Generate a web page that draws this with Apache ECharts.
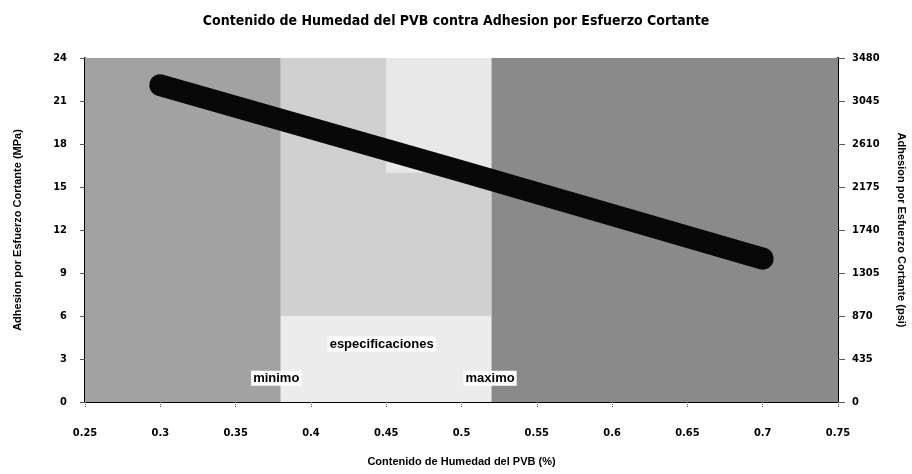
<!DOCTYPE html>
<html>
<head>
<meta charset="utf-8">
<script src="https://cdn.jsdelivr.net/npm/echarts@6/dist/echarts.min.js"></script>
<style>
  html, body { margin: 0; padding: 0; background: #fff; }
  #Chart { width: 912px; height: 474px; }
</style>
</head>
<body>
<div id="Chart"></div>
<script>
// datos
var humedad = [0.3, 0.5, 0.7];
var adhesion = [22.1, 16.1, 10.0];
// zonas del fondo: [x inicio, x fin, y inicio, y fin, color]
var zonas = [
    [0.25, 0.38, 0, 24, '#a2a2a2'],
    [0.38, 0.52, 0, 24, '#d0d0d0'],
    [0.38, 0.52, 0, 6, '#ececec'],
    [0.45, 0.52, 16, 24, '#e8e8e8'],
    [0.52, 0.75, 0, 24, '#8a8a8a']
];
var etiquetas = ['minimo', 'especificaciones', 'maximo'];
var etiquetaX = [0.377, 0.447, 0.519];
var etiquetaY = [1.65, 4.05, 1.65];

var narrow = "'DejaVu Sans Condensed', 'Liberation Sans Narrow', sans-serif";
var myChart = echarts.init(document.getElementById('Chart'));

var areas = zonas.map(function (z) {
    return [
        {coord: [z[0], z[2]], itemStyle: {color: z[4]}},
        {coord: [z[1], z[3]]}
    ];
});

var option = {
    backgroundColor: '#fff',
    animation: false,
    title: {
        text: 'Contenido de Humedad del PVB contra Adhesion por Esfuerzo Cortante',
        left: 'center',
        top: 9,
        textStyle: {fontFamily: narrow, fontWeight: 'bold', fontSize: 14, color: '#000'}
    },
    grid: {left: 85, right: 74, top: 58, bottom: 72, outerBoundsMode: 'none', containLabel: false},
    xAxis: {
        type: 'value',
        min: 0.25, max: 0.75, interval: 0.05,
        name: 'Contenido de Humedad del PVB (%)',
        nameLocation: 'middle',
        nameGap: 54,
        nameTextStyle: {fontFamily: 'Liberation Sans', fontWeight: 'bold', fontSize: 11, color: '#000'},
        axisLine: {lineStyle: {color: '#000', width: 2}},
        axisTick: {show: true, length: 5, lineStyle: {color: '#555', type: 'dotted'}},
        axisLabel: {fontFamily: narrow, fontWeight: 'bold', fontSize: 11, color: '#000', margin: 26},
        splitLine: {show: false}
    },
    yAxis: [
        {
            type: 'value',
            min: 0, max: 24, interval: 3,
            name: 'Adhesion por Esfuerzo Cortante (MPa)',
            nameLocation: 'middle',
            nameGap: 62,
            nameTextStyle: {fontFamily: 'Liberation Sans', fontWeight: 'bold', fontSize: 11, color: '#000'},
            axisLine: {show: true, lineStyle: {color: '#000', width: 2}},
            axisTick: {show: true, length: 5, lineStyle: {color: '#555'}},
            axisLabel: {fontFamily: narrow, fontWeight: 'bold', fontSize: 11, color: '#000', margin: 18},
            splitLine: {show: false}
        },
        {
            type: 'value',
            min: 0, max: 3480, interval: 435,
            name: 'Adhesion por Esfuerzo Cortante (psi)',
            nameLocation: 'middle',
            nameGap: 58,
            nameRotate: -90,
            nameTextStyle: {fontFamily: 'Liberation Sans', fontWeight: 'bold', fontSize: 11, color: '#000'},
            axisLine: {show: true, lineStyle: {color: '#000', width: 2}},
            axisTick: {show: true, length: 7, lineStyle: {color: '#555'}},
            axisLabel: {
                fontFamily: narrow, fontWeight: 'bold', fontSize: 11, color: '#000', margin: 14,
                formatter: function (v) { return String(v); }
            },
            splitLine: {show: false}
        }
    ],
    series: [
        {
            name: 'fondo',
            type: 'line',
            data: [],
            silent: true,
            markArea: {silent: true, data: areas}
        },
        {
            name: 'Adhesion',
            type: 'line',
            data: humedad.map(function (x, i) { return [x, adhesion[i]]; }),
            showSymbol: false,
            z: 5,
            lineStyle: {color: '#080808', width: 22, cap: 'round', join: 'round'}
        },
        {
            name: 'etiquetas',
            type: 'scatter',
            symbolSize: 1,
            itemStyle: {opacity: 0},
            z: 6,
            data: etiquetaX.map(function (x, i) { return {value: [x, etiquetaY[i]], name: etiquetas[i]}; }),
            label: {
                show: true,
                position: 'inside',
                formatter: '{b}',
                fontFamily: 'Liberation Sans',
                fontWeight: 'bold',
                fontSize: 13,
                color: '#000',
                opacity: 1,
                backgroundColor: '#fff',
                padding: [1, 2]
            }
        }
    ]
};
myChart.setOption(option);
</script>
</body>
</html>
